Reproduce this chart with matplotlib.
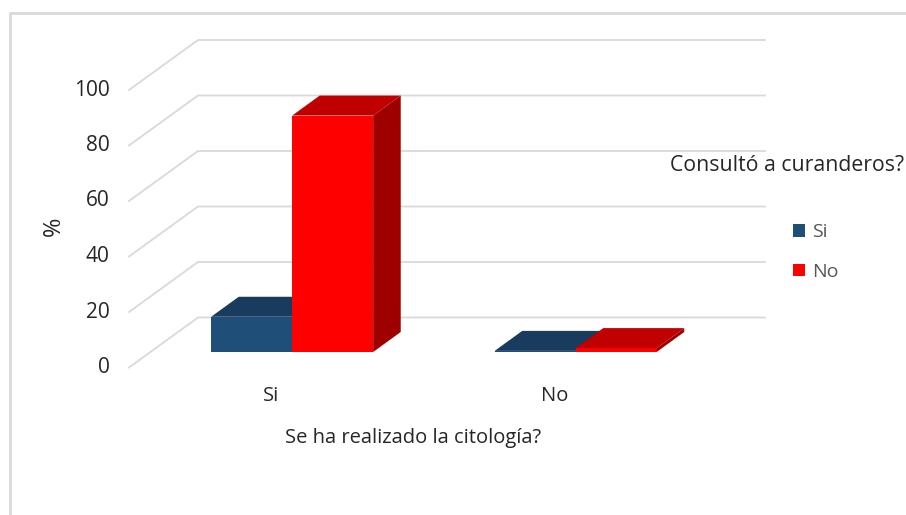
import matplotlib
matplotlib.use("Agg")
import matplotlib.pyplot as plt
from matplotlib.lines import Line2D
from matplotlib.patches import Polygon, Patch

categories = ["Si", "No"]
series_names = ["Si", "No"]
si_values = [12.7, 0.4]
no_values = [85.2, 1.4]
y_ticks = [0, 20, 40, 60, 80, 100]

W, H = 906, 515
plt.rcParams["font.family"] = ["Open Sans", "DejaVu Sans"]
fig = plt.figure(figsize=(W / 100, H / 100), dpi=100)
fig.patch.set_facecolor("white")

# front plane of the 3D box, in pixels
L, R, T, B = 129, 696, 90, 367.5
ax = fig.add_axes([L / W, 1 - B / H, (R - L) / W, (B - T) / H])
ax.set_xlim(-0.5, 1.5)
ax.set_ylim(0, 100)
ax.patch.set_alpha(0)
for s in ax.spines.values():
    s.set_visible(False)

# depth shear in data units
DX = 69 / ((R - L) / 2)
DY = 50 / ((B - T) / 100)
D0, D1 = 0.31, 0.71
BAR_W = 81 / ((R - L) / 2)
GRID = "#D9D9D9"

def p(x, y, d):
    return (x + d * DX, y + d * DY)

for v in y_ticks:
    a, b, c = p(-0.5, v, 0), p(-0.5, v, 1), p(1.5, v, 1)
    ax.plot([a[0], b[0], c[0]], [a[1], b[1], c[1]], color=GRID, lw=1.3,
            clip_on=False, zorder=1, solid_joinstyle="miter")

def bar3d(xl, v, front, top, side, z):
    xr = xl + BAR_W
    ax.add_patch(Polygon([p(xr, 0, D0), p(xr, 0, D1), p(xr, v, D1), p(xr, v, D0)],
                         fc=side, ec="none", clip_on=False, zorder=z))
    ax.add_patch(Polygon([p(xl, v, D0), p(xr, v, D0), p(xr, v, D1), p(xl, v, D1)],
                         fc=top, ec="none", clip_on=False, zorder=z))
    ax.add_patch(Polygon([p(xl, 0, D0), p(xr, 0, D0), p(xr, v, D0), p(xl, v, D0)],
                         fc=front, ec="none", clip_on=False, zorder=z))

BLUE = ("#1F4E79", "#193C5E", "#153350")
RED = ("#FF0000", "#C00000", "#9E0000")
for i in range(len(categories)):
    bar3d(i - BAR_W, si_values[i], *BLUE, 3 + 2 * i)
    bar3d(i, no_values[i], *RED, 4 + 2 * i)

ax.set_yticks(y_ticks)
ax.set_yticklabels([str(v) for v in y_ticks], fontsize=15, color="#262626")
ax.set_xticks(range(len(categories)))
ax.set_xticklabels(categories, fontsize=14.5, color="#262626")
ax.tick_params(axis="both", length=0)
ax.tick_params(axis="y", pad=14)
ax.tick_params(axis="x", pad=13.5)
for t in ax.get_yticklabels():
    t.set_verticalalignment("center")

fig.text(413 / W, 1 - 438 / H, "Se ha realizado la citología?", ha="center", va="center",
         fontsize=14.5, color="#262626")
fig.text(54 / W, 1 - 226 / H, "%", ha="center", va="center", rotation=90,
         fontsize=17, color="#262626")
fig.text(670 / W, 1 - 165 / H, "Consultó a curanderos?", ha="left", va="center",
         fontsize=15.3, color="#262626")

handles = [Patch(fc=BLUE[0], label=series_names[0]), Patch(fc=RED[0], label=series_names[1])]
leg = fig.legend(handles=handles, loc="center left", bbox_to_anchor=(793 / W, 1 - 252 / H),
                 frameon=False, fontsize=14, labelcolor="#595959", handlelength=0.64,
                 handleheight=0.64, handletextpad=0.36, labelspacing=1.12, borderpad=0,
                 borderaxespad=0)

# outer chart frame
fig.add_artist(Line2D([9.5 / W, 9.5 / W, 1], [0, 1 - 12.5 / H, 1 - 12.5 / H],
                      color="#D9D9D9", lw=2, solid_joinstyle="miter"))

fig.savefig("out.png", dpi=100)
